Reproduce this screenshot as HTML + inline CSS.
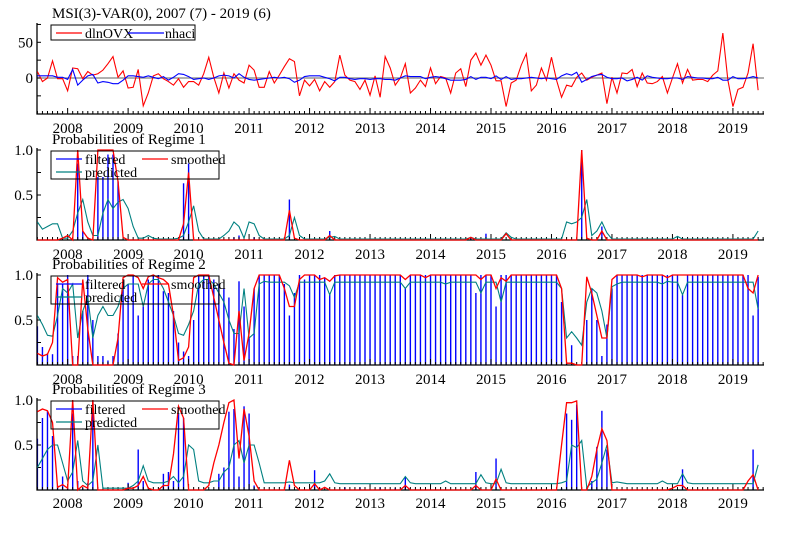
<!DOCTYPE html>
<html><head><meta charset="utf-8"><style>
html,body{margin:0;padding:0;background:#fff;}
svg{display:block;font-family:"Liberation Serif",serif;}
</style></head><body>
<svg id="chart" width="802" height="533" viewBox="0 0 802 533" xmlns="http://www.w3.org/2000/svg">
<text x="52" y="18" font-size="15">MSI(3)-VAR(0), 2007 (7) - 2019 (6)</text>
</svg>
<script>
const years = [2008,2009,2010,2011,2012,2013,2014,2015,2016,2017,2018,2019];
const ovx = [9,-5,0,24,-1,-1,-18,14,13,-1,9,4,
6,11,20,30,1,10,-14,-13,12,-39,-21,3,
6,-1,-5,-10,-1,-13,-5,-5,-10,6,29,1,
-21,7,-14,6,-3,-7,18,11,-13,-13,9,-7,
4,16,27,23,-25,-3,-11,-2,-18,-5,-13,-5,
32,4,-3,-5,-16,-3,-24,3,-27,30,14,-10,
0,20,-21,-14,-3,-12,14,-8,2,0,-21,7,
13,-12,25,35,18,32,18,-4,-4,-40,-7,-3,
18,34,-18,-10,14,-3,29,-3,-27,-10,-12,1,
7,-3,1,4,7,-36,1,-21,7,6,12,-12,
7,-7,-8,-5,2,-21,0,20,-7,12,-3,-2,
-2,-5,4,10,63,-3,-40,-16,-13,7,48,-17];
const nhaci = [3,3,3,3,1,1,-2,12,-10,-3,3,5,
-7,-5,-6,-8,-8,-3,3,3,2,1,3,1,
-1,2,-3,1,6,5,2,-2,-1,0,-2,0,
3,4,3,0,6,1,-2,-3,-2,-1,0,1,
0,1,-1,-6,-3,2,3,3,3,1,-1,-4,
1,1,-1,-2,-1,-1,-2,-1,-1,-2,-2,-3,
0,3,2,2,2,-1,1,2,1,-1,-3,-3,
-3,-2,2,-2,1,1,-1,3,-2,2,-2,-1,
-1,0,1,0,-1,0,-1,-2,3,6,4,8,
-6,-2,2,4,5,1,-1,-1,0,-4,-2,1,
-3,3,1,0,-1,-1,0,0,-2,2,1,0,
0,-1,-1,1,-3,-3,2,-1,-1,0,2,0];
const smooth1 = [0,0,0,0,0,.02,.05,0,1,.1,.02,0,
1,1,1,1,.65,.03,0,0,0,0,0,0,
0,0,0,0,0,.18,.75,0,0,0,0,0,
0,0,0,0,0,0,0,0,0,0,0,0,
0,0,.33,.02,0,0,0,0,0,0,.05,0,
0,0,0,0,0,0,0,0,0,0,0,0,
0,0,0,0,0,0,0,0,0,0,0,0,
0,0,.03,0,0,0,0,0,0,.07,0,0,
0,0,0,0,0,0,0,0,0,0,0,0,
1,.02,0,0,.1,0,0,0,0,0,0,0,
0,0,0,0,0,0,0,0,0,0,0,0,
0,0,0,0,0,0,0,0,0,0,0,0];
const filt1 = [0,0,0,0,0,0,0,0,.85,.1,0,0,
.7,.7,.95,.95,.65,0,0,0,0,0,0,0,
0,0,0,0,0,.63,.85,0,0,0,0,0,
0,0,0,.03,.05,0,0,.03,0,0,0,0,
0,0,.45,0,0,0,0,0,0,0,.1,0,
0,0,0,0,0,0,0,0,0,0,0,0,
0,0,0,0,0,0,0,0,0,0,0,0,
0,0,.03,0,0,.07,0,0,0,0,0,0,
0,0,0,0,0,0,0,0,0,0,0,0,
1,0,0,0,.15,0,0,0,0,0,0,0,
0,0,0,0,0,0,0,0,0,0,0,0,
0,0,0,0,0,0,0,0,0,0,0,0];
const pred1 = [.2,.12,.15,.18,.18,.02,.02,.1,.3,.45,.2,.05,
.05,.3,.45,.35,.42,.45,.35,.15,.02,.02,.05,.02,
.01,.01,.01,.01,.02,.05,.2,.38,.1,.01,.01,.01,
.01,.05,.1,.2,.15,.02,.2,.18,.05,.01,.01,.01,
.01,.01,.05,.25,.05,.01,.01,.01,.01,.01,.03,.04,
.01,.01,.01,.01,.01,.01,.01,.01,.01,.01,.01,.01,
.01,.01,.01,.01,.01,.01,.01,.01,.01,.01,.01,.01,
.01,.01,.03,.01,.01,.01,.01,.01,.01,.08,.03,.01,
.01,.01,.01,.01,.01,.01,.01,.01,.01,.2,.18,.2,
.25,.45,.05,.1,.2,.08,.01,.01,.01,.01,.01,.01,
.01,.01,.01,.01,.01,.01,.01,.04,.01,.01,.01,.01,
.01,.01,.01,.01,.01,.01,.01,.01,.01,.01,.01,.1];
const smooth2 = [.13,.1,.12,.25,.97,.92,.95,0,0,.95,.4,0,
0,0,0,0,.3,.97,1,1,.97,.85,.98,1,
.97,.95,.9,.55,.05,.08,.2,.97,1,1,1,.75,
.5,.25,.02,0,.6,.05,.35,.85,1,1,1,1,
1,.85,.65,.65,.95,1,1,1,.95,.97,.93,.99,
1,1,1,1,1,1,1,1,1,1,1,1,
1,.95,1,1,1,.97,1,1,1,1,1,1,
1,1,1,1,.95,1,1,.85,.97,.93,1,1,
1,1,1,1,1,1,1,1,.85,.02,.02,0,
0,.98,.8,.55,.3,.3,.95,1,1,1,1,1,
.98,1,1,1,1,.97,1,1,1,1,1,1,
1,1,1,1,1,1,1,1,1,.85,.8,1];
const filt2 = [.43,.2,.13,.12,.9,.9,1,.1,.1,.6,1,.5,
.1,.1,.05,.1,.35,.95,.9,1,.55,.65,.95,1,
1,.82,.8,.6,.25,.15,.1,.5,1,1,1,.95,
.9,.85,.75,.4,.93,.65,.3,.85,1,1,1,1,
1,.9,.55,.8,1,.95,1,1,1,.97,.8,1,
1,1,1,1,1,1,1,1,1,1,1,1,
1,.85,1,1,1,1,1,1,1,1,1,1,
1,1,1,.8,1,1,1,.65,1,1,1,1,
1,1,1,1,1,1,1,1,.7,.02,.22,0,
0,.5,.85,.5,.1,.45,.85,1,1,1,1,1,
1,1,1,1,1,1,1,1,.78,1,1,1,
1,1,1,1,1,1,1,1,1,1,.55,.98];
const pred2 = [.55,.45,.33,.32,.55,.85,.8,.9,.3,.6,.75,.3,
.55,.65,.55,.55,.65,.85,.9,.9,.9,.65,.9,.95,
.95,.85,.7,.55,.35,.33,.45,.6,.9,.95,.95,.9,
.8,.7,.5,.35,.35,.85,.3,.35,.9,.93,.92,.92,
.92,.92,.88,.75,.92,.92,.92,.92,.92,.92,.78,.92,
.92,.92,.92,.92,.92,.92,.92,.92,.92,.92,.92,.92,
.92,.85,.92,.92,.92,.92,.92,.92,.92,.9,.92,.92,
.92,.92,.92,.92,.8,.92,.92,.92,.7,.92,.92,.92,
.92,.92,.92,.92,.92,.92,.92,.92,.85,.3,.37,.3,
.22,.7,.85,.8,.6,.3,.87,.9,.92,.92,.92,.92,
.92,.92,.92,.92,.9,.93,.92,.92,.78,.92,.92,.92,
.92,.92,.92,.92,.92,.92,.92,.92,.92,.92,.92,.62];
const smooth3 = [.87,.9,.88,.75,.03,.06,.02,1,0,.05,.02,1,
0,0,0,0,0,0,.02,.02,.05,.15,.02,0,
0,.05,.05,.4,.93,.8,0,0,0,0,.05,.3,
.5,.75,.97,1,.35,.9,.6,.1,0,0,0,0,
0,0,.33,.05,0,0,0,.07,0,.03,0,0,
0,0,0,0,0,0,0,0,0,0,0,0,
0,.05,0,0,0,0,0,0,0,0,0,0,
0,0,0,.05,0,0,0,.12,0,0,0,0,
0,0,0,0,0,0,0,0,.5,.97,.97,.99,
0,0,.15,.45,.68,.55,0,0,0,0,0,0,
0,0,0,0,0,0,.02,.05,.05,0,0,0,
0,0,0,0,0,0,0,0,0,.1,.17,0];
const filt3 = [.57,.8,.88,.6,.05,.15,.02,.85,.1,.02,.08,.98,
0,0,0,0,0,0,.08,0,.45,.1,0,0,
0,.18,.2,.1,.85,.8,0,0,0,0,0,0,
.18,.25,.87,.9,.15,.93,.85,.05,0,0,0,0,
0,0,.06,0,0,0,0,.22,.02,0,0,0,
0,.03,0,0,.03,0,0,0,.03,0,0,.02,
0,.15,0,0,0,0,0,0,0,0,0,0,
0,0,0,.2,0,0,0,.35,0,0,0,0,
0,0,0,0,0,0,0,0,.02,.85,.78,.95,
0,0,.1,.48,.88,.45,0,0,0,0,0,0,
0,0,0,0,0,0,0,0,.23,0,0,0,
0,0,0,0,0,0,0,0,0,0,.45,0];
const pred3 = [.25,.35,.45,.5,.5,.3,.1,.2,.55,.1,.05,.1,
.5,.02,.02,.02,.02,.02,.02,.05,.1,.27,.1,.08,
.08,.08,.1,.15,.08,.15,.5,.45,.1,.08,.08,.1,
.1,.2,.25,.5,.55,.3,.5,.5,.3,.08,.08,.08,
.08,.08,.09,.08,.08,.08,.08,.08,.08,.1,.18,.08,
.07,.07,.07,.07,.07,.07,.07,.07,.07,.07,.07,.07,
.07,.15,.08,.07,.07,.07,.07,.07,.07,.1,.07,.07,
.07,.07,.07,.07,.17,.08,.07,.07,.23,.08,.07,.07,
.07,.07,.07,.07,.07,.07,.07,.07,.08,.1,.5,.47,
.55,.03,.08,.12,.3,.5,.08,.09,.08,.07,.07,.07,
.07,.07,.07,.07,.1,.07,.07,.07,.18,.08,.07,.07,
.07,.07,.07,.07,.07,.07,.07,.07,.07,.07,.07,.28];

const NS = 'http://www.w3.org/2000/svg';
const svg = document.getElementById('chart');
function mk(tag, attrs, parent) {
  const e = document.createElementNS(NS, tag);
  for (const k in attrs) e.setAttribute(k, attrs[k]);
  (parent || svg).appendChild(e);
  return e;
}
const X0 = 37, X1 = 764;
function xs(i) { return 37.4 + 5.04 * i; }
function pathFor(arr, ys) {
  return arr.map((v, i) => (i ? 'L' : 'M') + xs(i).toFixed(2) + ' ' + ys(v).toFixed(2)).join(' ');
}
function axes(g, top, bottom, labY, yTicks, yLabels, ys) {
  const ax = mk('path', {d: 'M' + X0 + ' ' + top + ' L' + X0 + ' ' + bottom + ' L' + X1 + ' ' + bottom, stroke: '#000', fill: 'none', 'stroke-width': 1.3}, g);
  
  
  for (let i = 0; i < 145; i++) {
    const yr = (i % 12) === 6;
    const t = mk('line', {x1: xs(i), x2: xs(i), y1: bottom, y2: bottom - (yr ? 6 : 3), stroke: '#000', 'stroke-width': 1}, g);
    
    
  }
  years.forEach((y, k) => {
    const t = mk('text', {x: xs(6 + 12 * k), y: labY, 'font-size': 15, 'text-anchor': 'middle'}, g);
    t.textContent = y;
    
    
  });
  yTicks.forEach(v => {
    const t = mk('line', {x1: X0, x2: X0 + 4, y1: ys(v), y2: ys(v), stroke: '#000'}, g);
    
    
  });
  yLabels.forEach(v => {
    const t = mk('text', {x: 33, y: ys(v) + 5, 'font-size': 15, 'text-anchor': 'end'}, g);
    t.textContent = v;
    
    
  });
}
/* panel 1 */
const g0 = mk('g', {});


const y0 = v => 78 - v * 0.714;
mk('line', {x1: X0, x2: X1, y1: y0(0), y2: y0(0), stroke: '#808080', 'stroke-width': 1.2}, g0);
axes(g0, 23, 114, 133, [75, 50, 25, 0, -25], ['50', '0'], y0);
const lo = mk('path', {d: pathFor(ovx, y0), stroke: '#ff0000', fill: 'none', 'stroke-width': 1.1}, g0);


const ln = mk('path', {d: pathFor(nhaci, y0), stroke: '#0000ff', fill: 'none', 'stroke-width': 1.1}, g0);


const lg0 = mk('g', {}, g0);


mk('rect', {x: 51, y: 25, width: 144, height: 15, fill: 'none', stroke: '#000'}, lg0);
mk('line', {x1: 56, x2: 82, y1: 33, y2: 33, stroke: '#ff0000', 'stroke-width': 1.2}, lg0);
let t = mk('text', {x: 85, y: 38, 'font-size': 14}, lg0); t.textContent = 'dlnOVX';
mk('line', {x1: 128, x2: 164, y1: 33, y2: 33, stroke: '#0000ff', 'stroke-width': 1.2}, lg0);
t = mk('text', {x: 165, y: 38, 'font-size': 14}, lg0); t.textContent = 'nhaci';

/* regime panels */
const regimes = [
  {n: 1, one: 150, zero: 240, lab: 259, f: filt1, s: smooth1, p: pred1},
  {n: 2, one: 275, zero: 365, lab: 384, f: filt2, s: smooth2, p: pred2},
  {n: 3, one: 400, zero: 490, lab: 508, f: filt3, s: smooth3, p: pred3}
];
regimes.forEach(r => {
  const g = mk('g', {});
  
  
  const ys = v => r.zero - v * (r.zero - r.one);
  const tt = mk('text', {x: 52, y: r.one - 6, 'font-size': 15}, g);
  tt.textContent = 'Probabilities of Regime ' + r.n;
  
  
  r.f.forEach((v, i) => {
    const b = mk('line', {x1: xs(i), x2: xs(i), y1: ys(0), y2: ys(v), stroke: '#0000ff', 'stroke-width': 1.4}, g);
    
    
  });
  axes(g, r.one - 2, r.zero, r.lab, [1, 0.75, 0.5, 0.25], ['1.0', '0.5'], ys);
  const lp = mk('path', {d: pathFor(r.p, ys), stroke: '#008080', fill: 'none', 'stroke-width': 1.1}, g);
  
  
  const ls = mk('path', {d: pathFor(r.s, ys), stroke: '#ff0000', fill: 'none', 'stroke-width': 1.3}, g);
  
  
  const lg = mk('g', {}, g);
  
  
  mk('rect', {x: 51, y: r.one + 1, width: 168, height: 28, fill: 'none', stroke: '#000'}, lg);
  mk('line', {x1: 56, x2: 82, y1: r.one + 9, y2: r.one + 9, stroke: '#0000ff', 'stroke-width': 1.2}, lg);
  let a = mk('text', {x: 85, y: r.one + 14, 'font-size': 14}, lg); a.textContent = 'filtered';
  mk('line', {x1: 142, x2: 168, y1: r.one + 9, y2: r.one + 9, stroke: '#ff0000', 'stroke-width': 1.2}, lg);
  a = mk('text', {x: 171, y: r.one + 14, 'font-size': 14}, lg); a.textContent = 'smoothed';
  mk('line', {x1: 56, x2: 82, y1: r.one + 22, y2: r.one + 22, stroke: '#008080', 'stroke-width': 1.2}, lg);
  a = mk('text', {x: 85, y: r.one + 27, 'font-size': 14}, lg); a.textContent = 'predicted';
});
</script>
</body></html>
